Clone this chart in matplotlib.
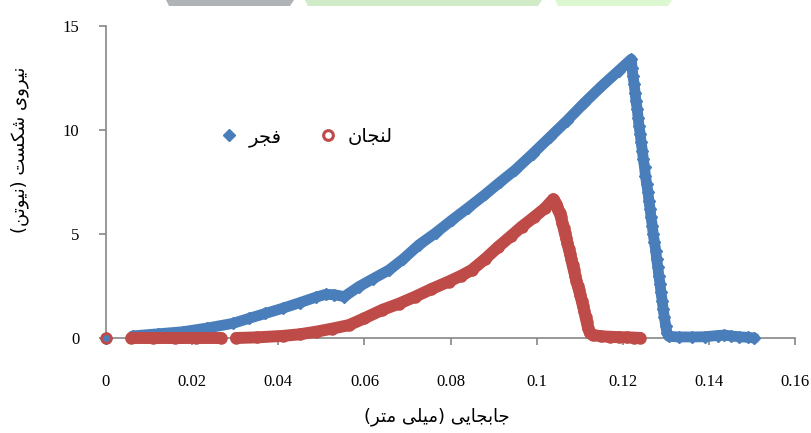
import matplotlib
matplotlib.use('Agg')
import matplotlib.pyplot as plt
from matplotlib.patches import Polygon
import numpy as np

# --- data ---
fajr_x = [0, np.nan, 0.0062, 0.0120, 0.0178, 0.0235, 0.0294, 0.0333, 0.0370, 0.0410, 0.0450,
          0.0487, 0.0510, 0.0530, 0.0553, 0.0587, 0.0620, 0.0657, 0.0690, 0.0726, 0.0765,
          0.0803, 0.0840, 0.0880, 0.0915, 0.0950, 0.0990, 0.1030, 0.1070, 0.1110, 0.1150,
          0.1190, 0.1219,
          0.1221, 0.1223, 0.1226, 0.1228, 0.1230, 0.1233, 0.1235, 0.1237, 0.1240, 0.1242,
          0.1245, 0.1247, 0.1250, 0.1252, 0.1255, 0.1258, 0.1260, 0.1263, 0.1265, 0.1268,
          0.1270, 0.1273, 0.1276, 0.1278, 0.1281, 0.1283, 0.1286, 0.1288, 0.1291, 0.1293,
          0.1296, 0.1299, 0.1302,
          0.1306, 0.1330, 0.1360, 0.1390, 0.1420, 0.1435, 0.1450, 0.1470, 0.1490, 0.1505]
fajr_y = [0, np.nan, 0.10, 0.20, 0.30, 0.48, 0.70, 0.95, 1.18, 1.43, 1.70,
          1.96, 2.10, 2.08, 1.99, 2.47, 2.85, 3.27, 3.80, 4.47, 5.05,
          5.67, 6.25, 6.90, 7.50, 8.08, 8.85, 9.65, 10.45, 11.30, 12.10,
          12.85, 13.40,
          13.0, 12.6, 12.2, 11.8, 11.4, 11.0, 10.6, 10.2, 9.8, 9.4,
          9.0, 8.6, 8.2, 7.8, 7.4, 7.0, 6.6, 6.2, 5.8, 5.4,
          5.0, 4.6, 4.2, 3.8, 3.4, 3.0, 2.6, 2.2, 1.8, 1.4,
          1.0, 0.6, 0.25,
          0.08, 0.05, 0.05, 0.06, 0.12, 0.14, 0.10, 0.06, 0.03, 0.0]

lenjan_x = [0, np.nan, 0.0059, 0.0110, 0.0160, 0.0210, 0.0267, np.nan,
            0.0302, 0.0350, 0.0410, 0.0450, 0.0487, 0.0525, 0.0564, 0.0600, 0.0641, 0.0680,
            0.0718, 0.0755, 0.0795, 0.0825, 0.0849, 0.0880, 0.0911, 0.0940, 0.0965, 0.0993,
            0.1019, 0.1038,
            0.1041, 0.1044, 0.1047, 0.1050, 0.1053, 0.1056, 0.1059, 0.1062, 0.1065, 0.1068,
            0.1071, 0.1074, 0.1077, 0.1080, 0.1083, 0.1086, 0.1089, 0.1092, 0.1095, 0.1098,
            0.1101, 0.1104, 0.1107, 0.1110, 0.1113, 0.1116, 0.1119, 0.1123, 0.1131,
            0.1150, 0.1170, 0.1190, 0.1210, 0.1225, 0.1240]
lenjan_y = [0, np.nan, 0, 0, 0, 0, 0, np.nan,
            0, 0.03, 0.10, 0.18, 0.30, 0.45, 0.62, 0.95, 1.35, 1.65,
            1.99, 2.35, 2.71, 3.00, 3.27, 3.80, 4.39, 4.90, 5.35, 5.80,
            6.24, 6.67,
            6.60, 6.45, 6.30, 6.15, 6.00, 5.80, 5.55, 5.30, 5.05, 4.80,
            4.55, 4.30, 4.05, 3.80, 3.50, 3.25, 3.00, 2.75, 2.50, 2.30,
            2.05, 1.80, 1.55, 1.30, 1.00, 0.75, 0.47, 0.25, 0.14,
            0.08, 0.06, 0.04, 0.03, 0.02, 0.0]

x_ticks = [0, 0.02, 0.04, 0.06, 0.08, 0.10, 0.12, 0.14, 0.16]
x_tick_labels = ['0', '0.02', '0.04', '0.06', '0.08', '0.1', '0.12', '0.14', '0.16']
y_ticks = [0, 5, 10, 15]

x_title = 'جابجایی (میلی متر)'
y_title = 'نیروی شکست (نیوتن)'
name_fajr = 'فجر'
name_lenjan = 'لنجان'

# contextual forms (isolated, final, initial, medial) - matplotlib does no arabic shaping
FORMS = {
    'ا': ('\uFE8D', '\uFE8E', None, None),
    'ب': ('\uFE8F', '\uFE90', '\uFE91', '\uFE92'),
    'ت': ('\uFE95', '\uFE96', '\uFE97', '\uFE98'),
    'ج': ('\uFE9D', '\uFE9E', '\uFE9F', '\uFEA0'),
    'ر': ('\uFEAD', '\uFEAE', None, None),
    'س': ('\uFEB1', '\uFEB2', '\uFEB3', '\uFEB4'),
    'ش': ('\uFEB5', '\uFEB6', '\uFEB7', '\uFEB8'),
    'ف': ('\uFED1', '\uFED2', '\uFED3', '\uFED4'),
    'ل': ('\uFEDD', '\uFEDE', '\uFEDF', '\uFEE0'),
    'م': ('\uFEE1', '\uFEE2', '\uFEE3', '\uFEE4'),
    'ن': ('\uFEE5', '\uFEE6', '\uFEE7', '\uFEE8'),
    'و': ('\uFEED', '\uFEEE', None, None),
    'ک': ('\uFB8E', '\uFB8F', '\uFB90', '\uFB91'),
    'ی': ('\uFBFC', '\uFBFD', '\uFBFE', '\uFBFF'),
}

def shape(text):
    out = []
    for i, ch in enumerate(text):
        if ch not in FORMS:
            out.append(ch)
            continue
        prev = text[i-1] if i > 0 else ''
        nxt = text[i+1] if i+1 < len(text) else ''
        jp = prev in FORMS and FORMS[prev][2] is not None
        jn = FORMS[ch][2] is not None and nxt in FORMS
        f = FORMS[ch]
        if jp and jn: out.append(f[3])
        elif jp: out.append(f[1])
        elif jn: out.append(f[2])
        else: out.append(f[0])
    s = ''.join(reversed(out))
    return s.translate(str.maketrans('()', ')('))

blue = '#4A7EBB'
red = '#BE4B48'
gray = '#868686'

fig = plt.figure(figsize=(8.12, 4.33), dpi=100)
ax = fig.add_axes([0.1305, 0.2194, 0.8490, 0.7206])

# thick line under the markers so the dense part reads as a band
ax.plot(fajr_x, fajr_y, '-', c=blue, lw=7.8, solid_capstyle='round', clip_on=False, zorder=3)
ax.plot(fajr_x, fajr_y, 'D', c=blue, ms=6.0, mec=blue, clip_on=False, zorder=3)
ax.plot(lenjan_x, lenjan_y, '-', c=red, lw=8.6, solid_capstyle='round', clip_on=False, zorder=4)
ax.plot(lenjan_x, lenjan_y, 'o', mfc='none', mec=red, mew=2.0, ms=7.0, clip_on=False, zorder=4)

# legend handles only
hf, = ax.plot([], [], 'D', c=blue, ms=6)
hl, = ax.plot([], [], 'o', mfc='none', mec=red, mew=2.2, ms=7)
leg = fig.legend([hf, hl], [shape(name_fajr), shape(name_lenjan)], ncol=2, frameon=False,
                 loc='center', bbox_to_anchor=(307/812, 1-137/433), numpoints=1,
                 handlelength=0.8, handletextpad=0.6, columnspacing=2.0,
                 prop={'family': 'DejaVu Sans', 'size': 14})

ax.set_xlim(0, 0.16)
ax.set_ylim(0, 15)
ax.set_xticks(x_ticks)
ax.set_xticklabels(x_tick_labels)
ax.set_yticks(y_ticks)
for s in ['top', 'right']:
    ax.spines[s].set_visible(False)
for s in ['left', 'bottom']:
    ax.spines[s].set_color(gray)
    ax.spines[s].set_linewidth(1.2)
ax.tick_params(direction='out', length=5, width=1.2, color=gray, labelsize=12)
ax.tick_params(axis='x', pad=21)
ax.tick_params(axis='y', pad=14)
for lab in ax.get_xticklabels() + ax.get_yticklabels():
    lab.set_family('Liberation Serif')

fig.text(437/812, 1-417/433, shape(x_title), ha='center', va='center', fontsize=13, family='DejaVu Sans')
fig.text(20/812, 1-150/433, shape(y_title), ha='center', va='center', rotation=90, fontsize=13, family='DejaVu Sans')

# strip of page decoration at the top edge
for pts, col in [([(166, 0), (294, 0), (290, 6), (169, 6)], '#b0b3b5'),
                 ([(305, 0), (542, 0), (538, 6), (308, 6)], '#d0ebc8'),
                 ([(555, 0), (672, 0), (668, 6), (558, 6)], '#dcf8d0')]:
    fig.patches.append(Polygon([(x/812, 1-y/433) for x, y in pts], closed=True, fc=col, ec='none',
                               transform=fig.transFigure, figure=fig))

fig.savefig('out.png', dpi=100)
